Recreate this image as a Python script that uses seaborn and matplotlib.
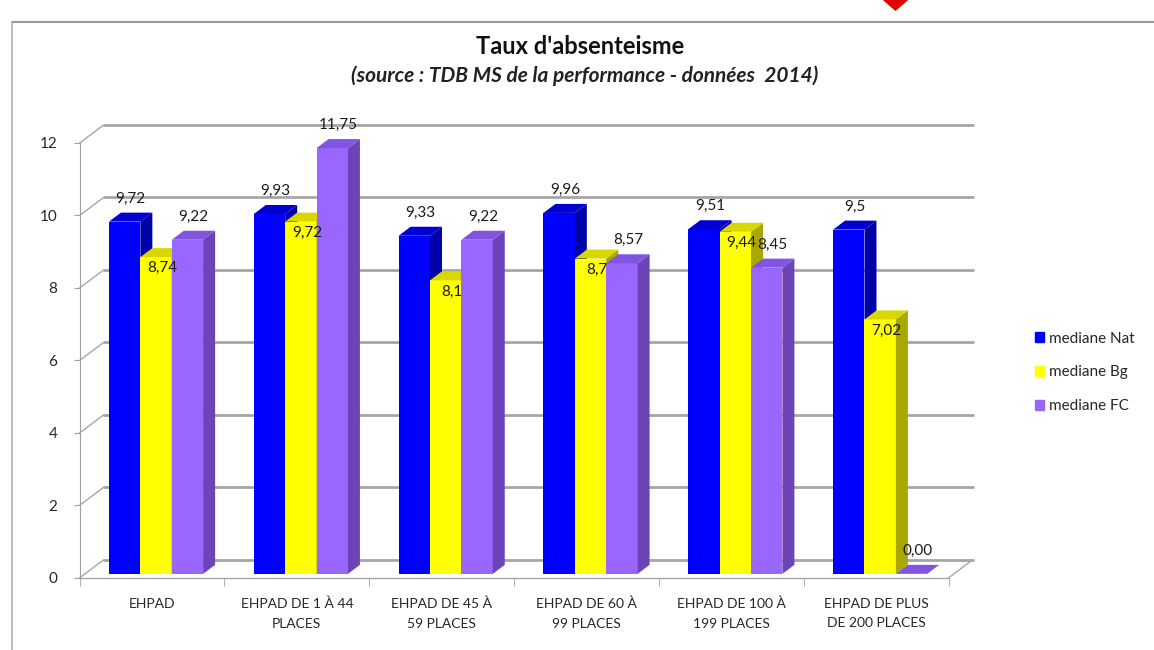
import matplotlib
matplotlib.use("Agg")
import matplotlib.pyplot as plt
import pandas as pd
import seaborn as sns
from matplotlib.lines import Line2D
from matplotlib.patches import Polygon

categories = ["EHPAD", "EHPAD DE 1 À 44\nPLACES", "EHPAD DE 45 À\n59 PLACES",
              "EHPAD DE 60 À\n99 PLACES", "EHPAD DE 100 À\n199 PLACES",
              "EHPAD DE PLUS\nDE 200 PLACES"]
series = ["mediane Nat", "mediane Bg", "mediane FC"]
nat = [9.72, 9.93, 9.33, 9.96, 9.51, 9.5]
bg = [8.74, 9.72, 8.1, 8.7, 9.44, 7.02]
fc = [9.22, 11.75, 9.22, 8.57, 8.45, 0.00]
nat_labels = ["9,72", "9,93", "9,33", "9,96", "9,51", "9,5"]
bg_labels = ["8,74", "9,72", "8,1", "8,7", "9,44", "7,02"]
fc_labels = ["9,22", "11,75", "9,22", "8,57", "8,45", "0,00"]

df = pd.DataFrame({
    "categorie": categories * 3,
    "serie": [series[0]] * 6 + [series[1]] * 6 + [series[2]] * 6,
    "taux": nat + bg + fc,
})

front = {"mediane Nat": "#0000FF", "mediane Bg": "#FFFF00", "mediane FC": "#9966FF"}
side = {"mediane Nat": "#0000A8", "mediane Bg": "#A8A800", "mediane FC": "#6B45B8"}
top = {"mediane Nat": "#0000D0", "mediane Bg": "#D8D800", "mediane FC": "#8155E0"}

sns.set_style("white")
plt.rcParams["font.family"] = ["Lato", "DejaVu Sans"]

fig = plt.figure(figsize=(11.54, 6.5), dpi=100)
ax = fig.add_axes([0.069, 0.111, 0.753, 0.669])

sns.barplot(data=df, x="categorie", y="taux", hue="serie", palette=front,
            width=0.65, saturation=1, ax=ax, legend=False, zorder=3)

ax.set_xlim(-0.5, 5.5)
ax.set_ylim(0, 12)
ax.set_yticks(range(0, 13, 2))
ax.set_xlabel("")
ax.set_ylabel("")
for s in ["top", "right", "bottom"]:
    ax.spines[s].set_visible(False)
ax.spines["left"].set_color("#A0A0A0")
ax.tick_params(axis="y", left=True, length=4, color="#A0A0A0", labelsize=11, pad=12)
ax.tick_params(axis="x", bottom=False, labelsize=10, pad=11)
ax.set_xticks(range(6))
ax.set_xticklabels(categories, linespacing=1.75)
ax.set_xticks([i - 0.5 for i in range(7)], minor=True)
ax.tick_params(axis="x", which="minor", bottom=True, length=6, color="#A0A0A0")

# depth offsets of the 3D frame, in data units
fig.canvas.draw()
bb = ax.get_window_extent()
px_x = bb.width / 6.0
px_y = bb.height / 12.0
wall_dx, wall_dy = 24 / px_x, 18 / px_y
bar_dx, bar_dy = 12 / px_x, 9 / px_y
shift_x, shift_y = 4 / px_x, 4 / px_y

grid_kw = dict(color="#A6A6A6", lw=2, clip_on=False, zorder=1)
for y in range(0, 13, 2):
    ax.plot([-0.5 + wall_dx, 5.5 + wall_dx], [y + wall_dy, y + wall_dy], **grid_kw)
    ax.plot([-0.5, -0.5 + wall_dx], [y, y + wall_dy], color="#A6A6A6", lw=1,
            clip_on=False, zorder=1)
ax.plot([-0.5, 5.5], [0, 0], color="#A6A6A6", lw=1, clip_on=False, zorder=1)
ax.plot([5.5, 5.5 + wall_dx], [0, wall_dy], color="#A6A6A6", lw=1, clip_on=False, zorder=1)

# side and top faces for each bar (bars sit a little inside the depth)
for k, cont in enumerate(ax.containers):
    name = series[k]
    for p in cont.patches:
        h = p.get_height()
        p.set_x(p.get_x() + shift_x)
        p.set_y(shift_y)
        x0 = p.get_x()
        w = p.get_width()
        p.set_zorder(3 + k * 0.1)
        p.set_edgecolor("none")
        x1 = x0 + w
        b = shift_y
        t = h + shift_y
        sidef = Polygon([(x1, b), (x1 + bar_dx, b + bar_dy), (x1 + bar_dx, t + bar_dy), (x1, t)],
                        closed=True, facecolor=side[name], edgecolor="none",
                        zorder=3 + k * 0.1, clip_on=False)
        topf = Polygon([(x0, t), (x0 + bar_dx, t + bar_dy), (x1 + bar_dx, t + bar_dy), (x1, t)],
                       closed=True, facecolor=top[name], edgecolor="none",
                       zorder=3 + k * 0.1, clip_on=False)
        ax.add_patch(sidef)
        ax.add_patch(topf)

# value labels
label_sets = [nat_labels, bg_labels, fc_labels]
values = [nat, bg, fc]
for k, cont in enumerate(ax.containers):
    for i, p in enumerate(cont.patches):
        cx = p.get_x() + p.get_width() / 2 + bar_dx / 2
        v = values[k][i]
        if k == 1:
            y = v - 0.2
        else:
            y = v + 0.75
        ax.text(cx, y, label_sets[k][i], ha="center", va="center", fontsize=11,
                color="#1A1A1A", zorder=10, clip_on=False)

handles = [plt.Rectangle((0, 0), 1, 1, color=front[s]) for s in series]
fig.legend(handles, series, loc="center left", bbox_to_anchor=(0.885, 0.427),
           frameon=False, fontsize=11, handlelength=0.6, handleheight=0.6,
           handletextpad=0.3, labelspacing=1.3)

fig.text(0.503, 0.928, "Taux d'absenteisme", ha="center", va="center",
         fontsize=17, fontweight="bold", color="#111111")
fig.text(0.507, 0.884, "(source : TDB MS de la performance - données  2014)",
         ha="center", va="center", fontsize=15, fontweight="bold", fontstyle="italic",
         color="#222222")

# chart frame
fig.add_artist(Line2D([0.0104, 1.0], [0.966, 0.966], color="#9A9A9A", lw=1.5))
fig.add_artist(Line2D([0.0104, 0.0104], [0.966, 0.0], color="#B0B0B0", lw=1.2))
fig.add_artist(Polygon([(0.765, 1.0), (0.787, 1.0), (0.776, 0.983)], closed=True,
                       facecolor="#E00000", edgecolor="none",
                       transform=fig.transFigure))

fig.savefig("out.png", dpi=100)
